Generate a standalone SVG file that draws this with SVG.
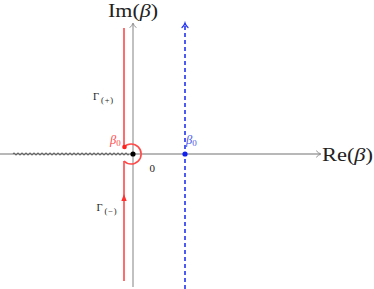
<svg xmlns="http://www.w3.org/2000/svg" width="374" height="289" viewBox="0 0 374 289">
<style>
.axis{stroke:#a0a0a0;stroke-width:1.3;fill:none}
.axhead{stroke:#909090;stroke-width:1;fill:none;stroke-linecap:round;stroke-linejoin:round}
.red{stroke:#ff4a4a;stroke-width:1.6;fill:none}
.blue{stroke:#2233ee;stroke-width:1.6;fill:none;stroke-dasharray:4 3}
.tx{font-family:"Liberation Serif","DejaVu Serif",serif;fill:#222}
.it{font-style:italic}
.sub{font-size:8.5px;letter-spacing:0.8px}
</style>
<rect width="374" height="289" fill="#ffffff"/>
<g id="connectors">
  <!-- horizontal axis -->
  <line class="axis" x1="0" y1="154" x2="320" y2="154"/>
  <path class="axhead" d="M316.5,151 Q318.5,153.3 321,154 Q318.5,154.7 316.5,157"/>
  <!-- vertical axis -->
  <line class="axis" x1="133" y1="287" x2="133" y2="24"/>
  <path class="axhead" d="M130,27.5 Q132.3,25.5 133,23 Q133.7,25.5 136,27.5"/>
  <!-- branch cut -->
  <path d="M13,154 q1,-2.6 2,0 t2,0 t2,0 t2,0 t2,0 t2,0 t2,0 t2,0 t2,0 t2,0 t2,0 t2,0 t2,0 t2,0 t2,0 t2,0 t2,0 t2,0 t2,0 t2,0 t2,0 t2,0 t2,0 t2,0 t2,0 t2,0 t2,0 t2,0 t2,0 t2,0 t2,0 t2,0 t2,0 t2,0 t2,0 t2,0 t2,0 t2,0 t2,0 t2,0 t2,0 t2,0 t2,0 t2,0 t2,0 t2,0 t2,0 t2,0 t2,0 t2,0 t2,0 t2,0 t2,0 t2,0 t2,0 t2,0 t2,0 t2,0" stroke="#333" stroke-width="0.7" fill="none"/>
  <!-- blue dashed contour -->
  <line class="blue" x1="185" y1="289" x2="185" y2="25"/>
  <path d="M182,27.5 Q184.3,25.5 185,23 Q185.7,25.5 188,27.5" stroke="#2233ee" stroke-width="1.2" fill="none" stroke-linecap="round"/>
  <!-- red contour -->
  <line class="red" x1="124" y1="28" x2="124" y2="147"/>
  <path class="red" d="M124,147 A10,10 0 1 1 124,161"/>
  <line class="red" x1="124" y1="161" x2="124" y2="281"/>
  <path d="M121.3,201 L124,194 L126.7,201 Z" fill="#ff3030"/>
</g>
<g id="points">
  <circle cx="133" cy="154" r="2.6" fill="#000"/>
  <circle cx="124.5" cy="147" r="2.3" fill="#ff2020"/>
  <circle cx="185" cy="154" r="2.6" fill="#1020ee"/>
</g>
<g id="labels">
  <text class="tx" x="108" y="17" font-size="19.5" textLength="50" lengthAdjust="spacingAndGlyphs">Im(<tspan class="it">β</tspan>)</text>
  <text class="tx" x="322" y="161" font-size="19.5" textLength="51" lengthAdjust="spacingAndGlyphs">Re(<tspan class="it">β</tspan>)</text>
  <text class="tx" x="93" y="100" font-size="10.5" fill="#333">Γ<tspan class="sub" dx="2" dy="3">(+)</tspan></text>
  <text class="tx" x="96.5" y="211" font-size="10.5" fill="#333">Γ<tspan class="sub" dx="2" dy="3">(−)</tspan></text>
  <text class="tx" x="149.5" y="172" font-size="11">0</text>
  <text x="110" y="144" font-family="Liberation Serif,serif" font-size="12.5" fill="#ff4a4a"><tspan font-style="italic">β</tspan><tspan font-size="9" dy="2">0</tspan></text>
  <text x="186" y="144" font-family="Liberation Serif,serif" font-size="12.5" fill="#4a5aee"><tspan font-style="italic">β</tspan><tspan font-size="9" dy="2">0</tspan></text>
</g>
</svg>
